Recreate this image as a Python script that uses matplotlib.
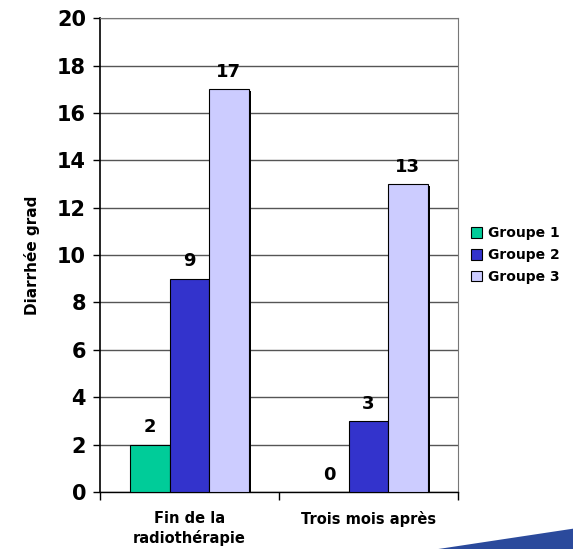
import matplotlib.pyplot as plt
import matplotlib.patheffects as pe
from matplotlib.patches import Polygon
import numpy as np

categories = ['Fin de la\nradiothérapie', 'Trois mois après']
groups = ['Groupe 1', 'Groupe 2', 'Groupe 3']
values = {
    'Groupe 1': [2, 0],
    'Groupe 2': [9, 3],
    'Groupe 3': [17, 13],
}
colors = ['#00CC99', '#3333CC', '#CCCCFF']

plt.rcParams['font.family'] = 'DejaVu Sans'
plt.rcParams['font.weight'] = 'bold'

fig = plt.figure(figsize=(5.73, 5.49), dpi=100)
ax = fig.add_axes([0.1745, 0.1038, 0.6248, 0.8632])

x = np.arange(len(categories))
w = 0.22
shadow = [pe.SimplePatchShadow(offset=(2, -1.5), shadow_rgbFace='black', alpha=1), pe.Normal()]

for i, g in enumerate(groups):
    pos = x + (i - 1) * w
    bars = ax.bar(pos, values[g], w, color=colors[i], edgecolor='black',
                  linewidth=0.8, label=g, zorder=3)
    for b, v in zip(bars, values[g]):
        if v > 0:
            b.set_path_effects(shadow)
        ax.text(b.get_x() + b.get_width() / 2, v + 0.35, str(v), ha='center',
                va='bottom', fontsize=13, fontweight='bold', zorder=4)

ax.set_xlim(-0.5, 1.5)
ax.set_ylim(0, 20)
ax.set_yticks(range(0, 21, 2))
ax.tick_params(axis='y', labelsize=15, length=5, width=1, direction='out', pad=5)
ax.yaxis.grid(True, color='#555555', linewidth=1)
ax.set_axisbelow(True)

ax.set_xticks([-0.5, 0.5, 1.5])
ax.set_xticklabels([])
ax.tick_params(axis='x', length=6, width=1, direction='out')
for xi, lab in zip(x, categories):
    ax.text(xi, -0.8, lab, ha='center', va='top', fontsize=10.5,
            fontweight='bold', linespacing=1.3)

for s in ['top', 'right']:
    ax.spines[s].set_color('#777777')
ax.spines['left'].set_linewidth(1.2)
ax.spines['bottom'].set_linewidth(1)

ax.set_ylabel('Diarrhée grad', fontsize=11, fontweight='bold', labelpad=12)

leg = ax.legend(loc='center left', bbox_to_anchor=(1.01, 0.5), frameon=False,
                fontsize=10, handlelength=0.8, handleheight=0.8,
                handletextpad=0.4, labelspacing=0.55, borderaxespad=0.3)
for t in leg.get_texts():
    t.set_fontweight('bold')
for h in leg.legend_handles:
    h.set_path_effects([])

# blue swoosh in the lower right corner
fig.patches.append(Polygon([[0.765, 0.0], [1.0, 0.037], [1.0, 0.0]],
                           closed=True, transform=fig.transFigure,
                           facecolor='#2B4A9C', edgecolor='none'))

fig.savefig('out.png', dpi=100)
